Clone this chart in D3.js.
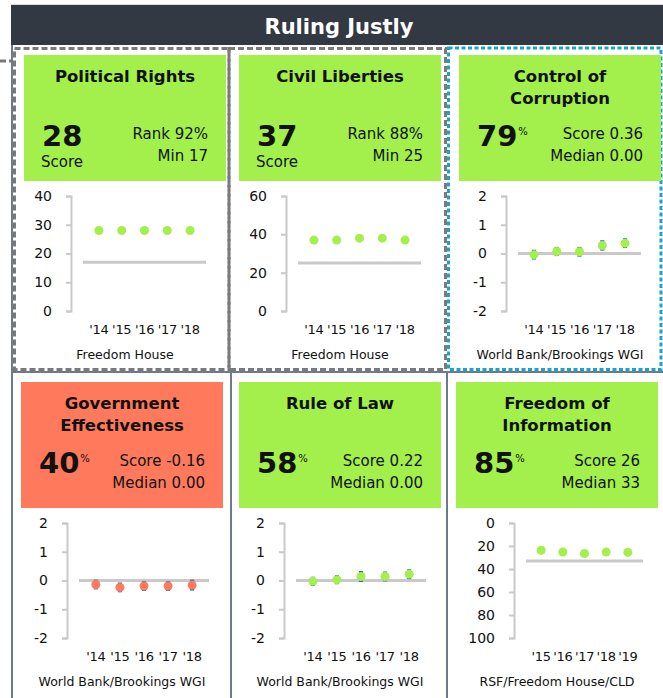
<!DOCTYPE html>
<html>
<head>
<meta charset="utf-8">
<script src="https://cdn.jsdelivr.net/npm/d3@7"></script>
<style>
  body { margin: 0; background: #fff; }
  svg { display: block; font-family: "DejaVu Sans", sans-serif; }
</style>
</head>
<body>
<div id="chart"></div>
<script>
"use strict";

// --- data ---
const sectionTitle = "Ruling Justly";
const panelTitles = [
  ["Political Rights"], ["Civil Liberties"], ["Control of", "Corruption"],
  ["Government", "Effectiveness"], ["Rule of Law"], ["Freedom of", "Information"]
];
const headlineValues = ["28", "37", "79", "40", "58", "85"];
const headlineUnits = ["Score", "Score", "%", "%", "%", "%"];
const statLines = [
  ["Rank 92%", "Min 17"], ["Rank 88%", "Min 25"], ["Score 0.36", "Median 0.00"],
  ["Score -0.16", "Median 0.00"], ["Score 0.22", "Median 0.00"], ["Score 26", "Median 33"]
];
const sources = [
  "Freedom House", "Freedom House", "World Bank/Brookings WGI",
  "World Bank/Brookings WGI", "World Bank/Brookings WGI", "RSF/Freedom House/CLD"
];

const yearsFH = ["'14", "'15", "'16", "'17", "'18"];
const yearsWGI = ["'14", "'15", "'16", "'17", "'18"];
const yearsFOI = ["'15", "'16", "'17", "'18", "'19"];

const politicalRights = [28, 28, 28, 28, 28];
const civilLiberties = [37, 37, 38, 38, 37];
const controlOfCorruption = [-0.04, 0.07, 0.06, 0.28, 0.36];
const controlOfCorruptionErr = [0.17, 0.16, 0.17, 0.18, 0.17];
const govEffectiveness = [-0.14, -0.24, -0.19, -0.19, -0.16];
const govEffectivenessErr = [0.17, 0.17, 0.17, 0.17, 0.19];
const ruleOfLaw = [-0.03, 0.03, 0.14, 0.14, 0.22];
const ruleOfLawErr = [0.16, 0.16, 0.19, 0.17, 0.17];
const freedomOfInfo = [23.7, 25.2, 26.5, 25.3, 25.6];

const thresholds = [17, 25, 0, 0, 0, 33];
const ticksPR = [0, 10, 20, 30, 40];
const ticksCL = [0, 20, 40, 60];
const ticksWGI = [-2, -1, 0, 1, 2];
const ticksFOI = [0, 20, 40, 60, 80, 100];

// --- styling ---
const GREEN = "#a3f04c";
const SALMON = "#ff7a5c";
const HEADER = "#333943";
const SLATE = "#6c7a8e";
const DASH = "#7a7a7a";
const BLUE_DOT = "#18a4cf";
const AXIS = "#c9c9c9";
const ERR = "#1f6db2";
const INK = "#111";

const W = 663, H = 698;
const BOX_W = 202, BOX_H = 126;

const panels = [
  { x: 24,  y: 55,  years: yearsFH,  values: politicalRights, domain: [0, 40], ticks: ticksPR, axisOff: 47, lineEnd: 135, fill: GREEN },
  { x: 239, y: 55,  years: yearsFH,  values: civilLiberties, domain: [0, 60], ticks: ticksCL, axisOff: 47, lineEnd: 135, fill: GREEN },
  { x: 459, y: 55,  years: yearsWGI, values: controlOfCorruption, err: controlOfCorruptionErr, domain: [-2, 2], ticks: ticksWGI, axisOff: 47, lineEnd: 135, fill: GREEN },
  { x: 21,  y: 382, years: yearsWGI, values: govEffectiveness, err: govEffectivenessErr, domain: [-2, 2], ticks: ticksWGI, axisOff: 46, lineEnd: 142, fill: SALMON },
  { x: 239, y: 382, years: yearsWGI, values: ruleOfLaw, err: ruleOfLawErr, domain: [-2, 2], ticks: ticksWGI, axisOff: 45, lineEnd: 142, fill: GREEN },
  { x: 456, y: 382, years: yearsFOI, values: freedomOfInfo, domain: [0, 100], ticks: ticksFOI, axisOff: 58, lineEnd: 129, fill: GREEN, reversed: true }
];

const svg = d3.select("#chart").append("svg")
    .attr("width", W)
    .attr("height", H);

// frame lines
const frame = svg.append("g")
    .attr("stroke", SLATE)
    .attr("stroke-width", 2);
frame.append("line").attr("x1", 12).attr("y1", 45).attr("x2", 12).attr("y2", H);
frame.append("line").attr("x1", 12).attr("y1", 372).attr("x2", W).attr("y2", 372);
frame.append("line").attr("x1", 231).attr("y1", 372).attr("x2", 231).attr("y2", H);
frame.append("line").attr("x1", 447).attr("y1", 372).attr("x2", 447).attr("y2", H);

// header
svg.append("line")
    .attr("x1", 11).attr("y1", 4.5).attr("x2", W).attr("y2", 4.5)
    .attr("stroke", "#dcdcdc");
svg.append("rect")
    .attr("x", 11).attr("y", 5)
    .attr("width", W - 11).attr("height", 40)
    .attr("fill", HEADER);
svg.append("text")
    .attr("x", 339).attr("y", 34)
    .attr("text-anchor", "middle")
    .attr("fill", "#fff")
    .attr("font-weight", 700)
    .attr("font-size", 21)
    .text(sectionTitle);

// dashed / dotted highlight borders on the top row
svg.append("line")
    .attr("x1", 0).attr("y1", 61).attr("x2", 12).attr("y2", 61)
    .attr("stroke", DASH).attr("stroke-width", 3).attr("stroke-dasharray", "6,3");
[[14.5, 229], [229, 445.5]].forEach(([x0, x1]) => {
  svg.append("rect")
      .attr("x", x0).attr("y", 48.5)
      .attr("width", x1 - x0).attr("height", 321)
      .attr("fill", "none")
      .attr("stroke", DASH)
      .attr("stroke-width", 3)
      .attr("stroke-dasharray", "6,3");
});
svg.append("rect")
    .attr("x", 448.5).attr("y", 48)
    .attr("width", 212.5).attr("height", 321.5)
    .attr("fill", "none")
    .attr("stroke", BLUE_DOT)
    .attr("stroke-width", 3)
    .attr("stroke-dasharray", "4,2.5");

// panels
panels.forEach((p, i) => {
  const g = svg.append("g");
  const cx = p.x + BOX_W / 2;

  g.append("rect")
      .attr("x", p.x).attr("y", p.y)
      .attr("width", BOX_W).attr("height", BOX_H)
      .attr("fill", p.fill);

  panelTitles[i].forEach((line, k) => {
    g.append("text")
        .attr("x", cx).attr("y", p.y + 27 + k * 22)
        .attr("text-anchor", "middle")
        .attr("font-weight", 700)
        .attr("font-size", 16.5)
        .attr("fill", INK)
        .text(line);
  });

  const big = g.append("text")
      .attr("x", p.x + 18).attr("y", p.y + 91)
      .attr("font-weight", 700)
      .attr("font-size", 29)
      .attr("fill", INK)
      .text(headlineValues[i]);
  if (headlineUnits[i] === "%") {
    big.append("tspan")
        .attr("dx", 1).attr("dy", -11)
        .attr("font-size", 10)
        .attr("font-weight", 400)
        .text("%");
  } else {
    g.append("text")
        .attr("x", p.x + 38).attr("y", p.y + 112)
        .attr("text-anchor", "middle")
        .attr("font-size", 15)
        .attr("fill", INK)
        .text(headlineUnits[i]);
  }

  statLines[i].forEach((line, k) => {
    g.append("text")
        .attr("x", p.x + BOX_W - 18).attr("y", p.y + 84 + k * 22)
        .attr("text-anchor", "end")
        .attr("font-size", 15)
        .attr("fill", INK)
        .text(line);
  });

  // chart
  const ax = p.x + p.axisOff;
  const y = d3.scaleLinear()
      .domain(p.domain)
      .range(p.reversed ? [p.y + 141, p.y + 256] : [p.y + 256, p.y + 141]);
  const x = d3.scalePoint()
      .domain(p.years)
      .range([ax + 12, ax + p.lineEnd])
      .padding(0.7);

  const axis = g.append("g")
      .attr("transform", `translate(${ax},0)`)
      .call(d3.axisLeft(y).tickValues(p.ticks).tickSize(5).tickPadding(14).tickFormat(d => String(d)));
  axis.selectAll("path, line").attr("stroke", AXIS).attr("stroke-width", 2);
  axis.selectAll("text")
      .attr("font-family", "'DejaVu Sans', sans-serif")
      .attr("font-size", 14)
      .attr("fill", INK);

  g.append("line")
      .attr("x1", ax + 12).attr("x2", ax + p.lineEnd)
      .attr("y1", y(thresholds[i])).attr("y2", y(thresholds[i]))
      .attr("stroke", AXIS)
      .attr("stroke-width", 3);

  if (p.err) {
    g.selectAll(".err")
        .data(p.values)
      .enter().append("rect")
        .attr("class", "err")
        .attr("x", (d, j) => x(p.years[j]) - 2)
        .attr("width", 4)
        .attr("y", (d, j) => y(d + p.err[j]))
        .attr("height", (d, j) => y(d - p.err[j]) - y(d + p.err[j]))
        .attr("fill", ERR);
  }

  g.selectAll(".dot")
      .data(p.values)
    .enter().append("circle")
      .attr("class", "dot")
      .attr("cx", (d, j) => x(p.years[j]))
      .attr("cy", d => y(d))
      .attr("r", 4.5)
      .attr("fill", p.fill);

  g.selectAll(".year")
      .data(p.years)
    .enter().append("text")
      .attr("class", "year")
      .attr("x", d => x(d))
      .attr("y", p.y + 279)
      .attr("text-anchor", "middle")
      .attr("font-size", 13)
      .attr("letter-spacing", -0.3)
      .attr("fill", INK)
      .text(d => d);

  g.append("text")
      .attr("x", cx).attr("y", p.y + 304)
      .attr("text-anchor", "middle")
      .attr("font-size", 12.5)
      .attr("fill", INK)
      .text(sources[i]);
});
</script>
</body>
</html>
